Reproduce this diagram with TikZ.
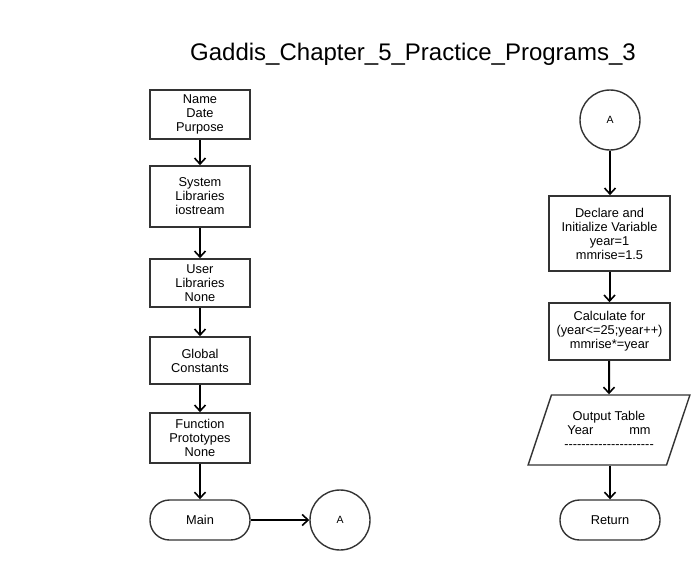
\documentclass[tikz,border=0pt]{standalone}
\usepackage{fontspec}
\setmainfont{Liberation Sans}
\usetikzlibrary{arrows.meta,shapes.geometric}
\begin{document}
\begin{tikzpicture}[x=1pt,y=-1pt,
  every node/.style={font=\fontsize{12.8}{14}\selectfont, align=center, inner sep=0pt, text=black},
  procbox/.style={draw=black!80, line width=1.6pt, rectangle, minimum width=100pt},
  termbox/.style={draw=black!80, line width=1.4pt, rectangle, rounded corners=19.5pt, minimum width=100pt, minimum height=40pt},
  conn/.style={draw=black!80, line width=1.4pt, circle, minimum size=60pt, font=\fontsize{10.5}{12}\selectfont},
  iobox/.style={draw=black!80, line width=1.4pt, trapezium, trapezium left angle=64, trapezium right angle=116, trapezium stretches=true, minimum width=162pt, minimum height=70pt},
  flow/.style={draw=black, line width=2pt, -{Straight Barb[length=6pt,width=11pt,line width=1.6pt]}}
]
\useasboundingbox (0,0) rectangle (695,570);
\node[font=\fontsize{24}{28}\selectfont, anchor=base] (title) at (413,60) {Gaddis\_Chapter\_5\_Practice\_Programs\_3};

\node[procbox, minimum height=49pt] (b1) at (200,114.5) {Name\\Date\\Purpose};
\node[procbox, minimum height=61pt] (b2) at (200,196.5) {System\\Libraries\\iostream};
\node[procbox, minimum height=48pt] (b3) at (200,283) {User\\Libraries\\None};
\node[procbox, minimum height=47pt] (b4) at (200,360.5) {Global\\Constants};
\node[procbox, minimum height=50pt] (b5) at (200,438) {Function\\Prototypes\\None};
\node[termbox] (main) at (200,520) {Main};
\node[conn] (a1) at (340,520) {A};

\node[conn] (a2) at (610,120) {A};
\node[procbox, minimum width=121pt, minimum height=75pt] (decl) at (609.5,233.5) {Declare and\\Initialize Variable\\year=1\\mmrise=1.5};
\node[procbox, minimum width=121pt, minimum height=57pt] (calc) at (609.5,331.5) {Calculate for\\(year<=25;year++)\\mmrise*=year};
\node[iobox] (out) at (609,430) {Output Table\\Year\hspace{36pt}mm\\-{}-{}-{}-{}-{}-{}-{}-{}-{}-{}-{}-{}-{}-{}-{}-{}-{}-{}-{}-{}-{}};
\node[termbox] (ret) at (610,520) {Return};

\draw[flow] (b1) -- (b2);
\draw[flow] (b2) -- (b3);
\draw[flow] (b3) -- (b4);
\draw[flow] (b4) -- (b5);
\draw[flow] (b5) -- (main);
\draw[flow] (main) -- (a1);
\draw[flow] (a2) -- (a2 |- decl.north);
\draw[flow] (decl) -- (decl |- calc.north);
\draw[flow] (calc.south -| out) -- (out.north);
\draw[flow] (out.south -| ret) -- (ret);
\end{tikzpicture}
\end{document}
